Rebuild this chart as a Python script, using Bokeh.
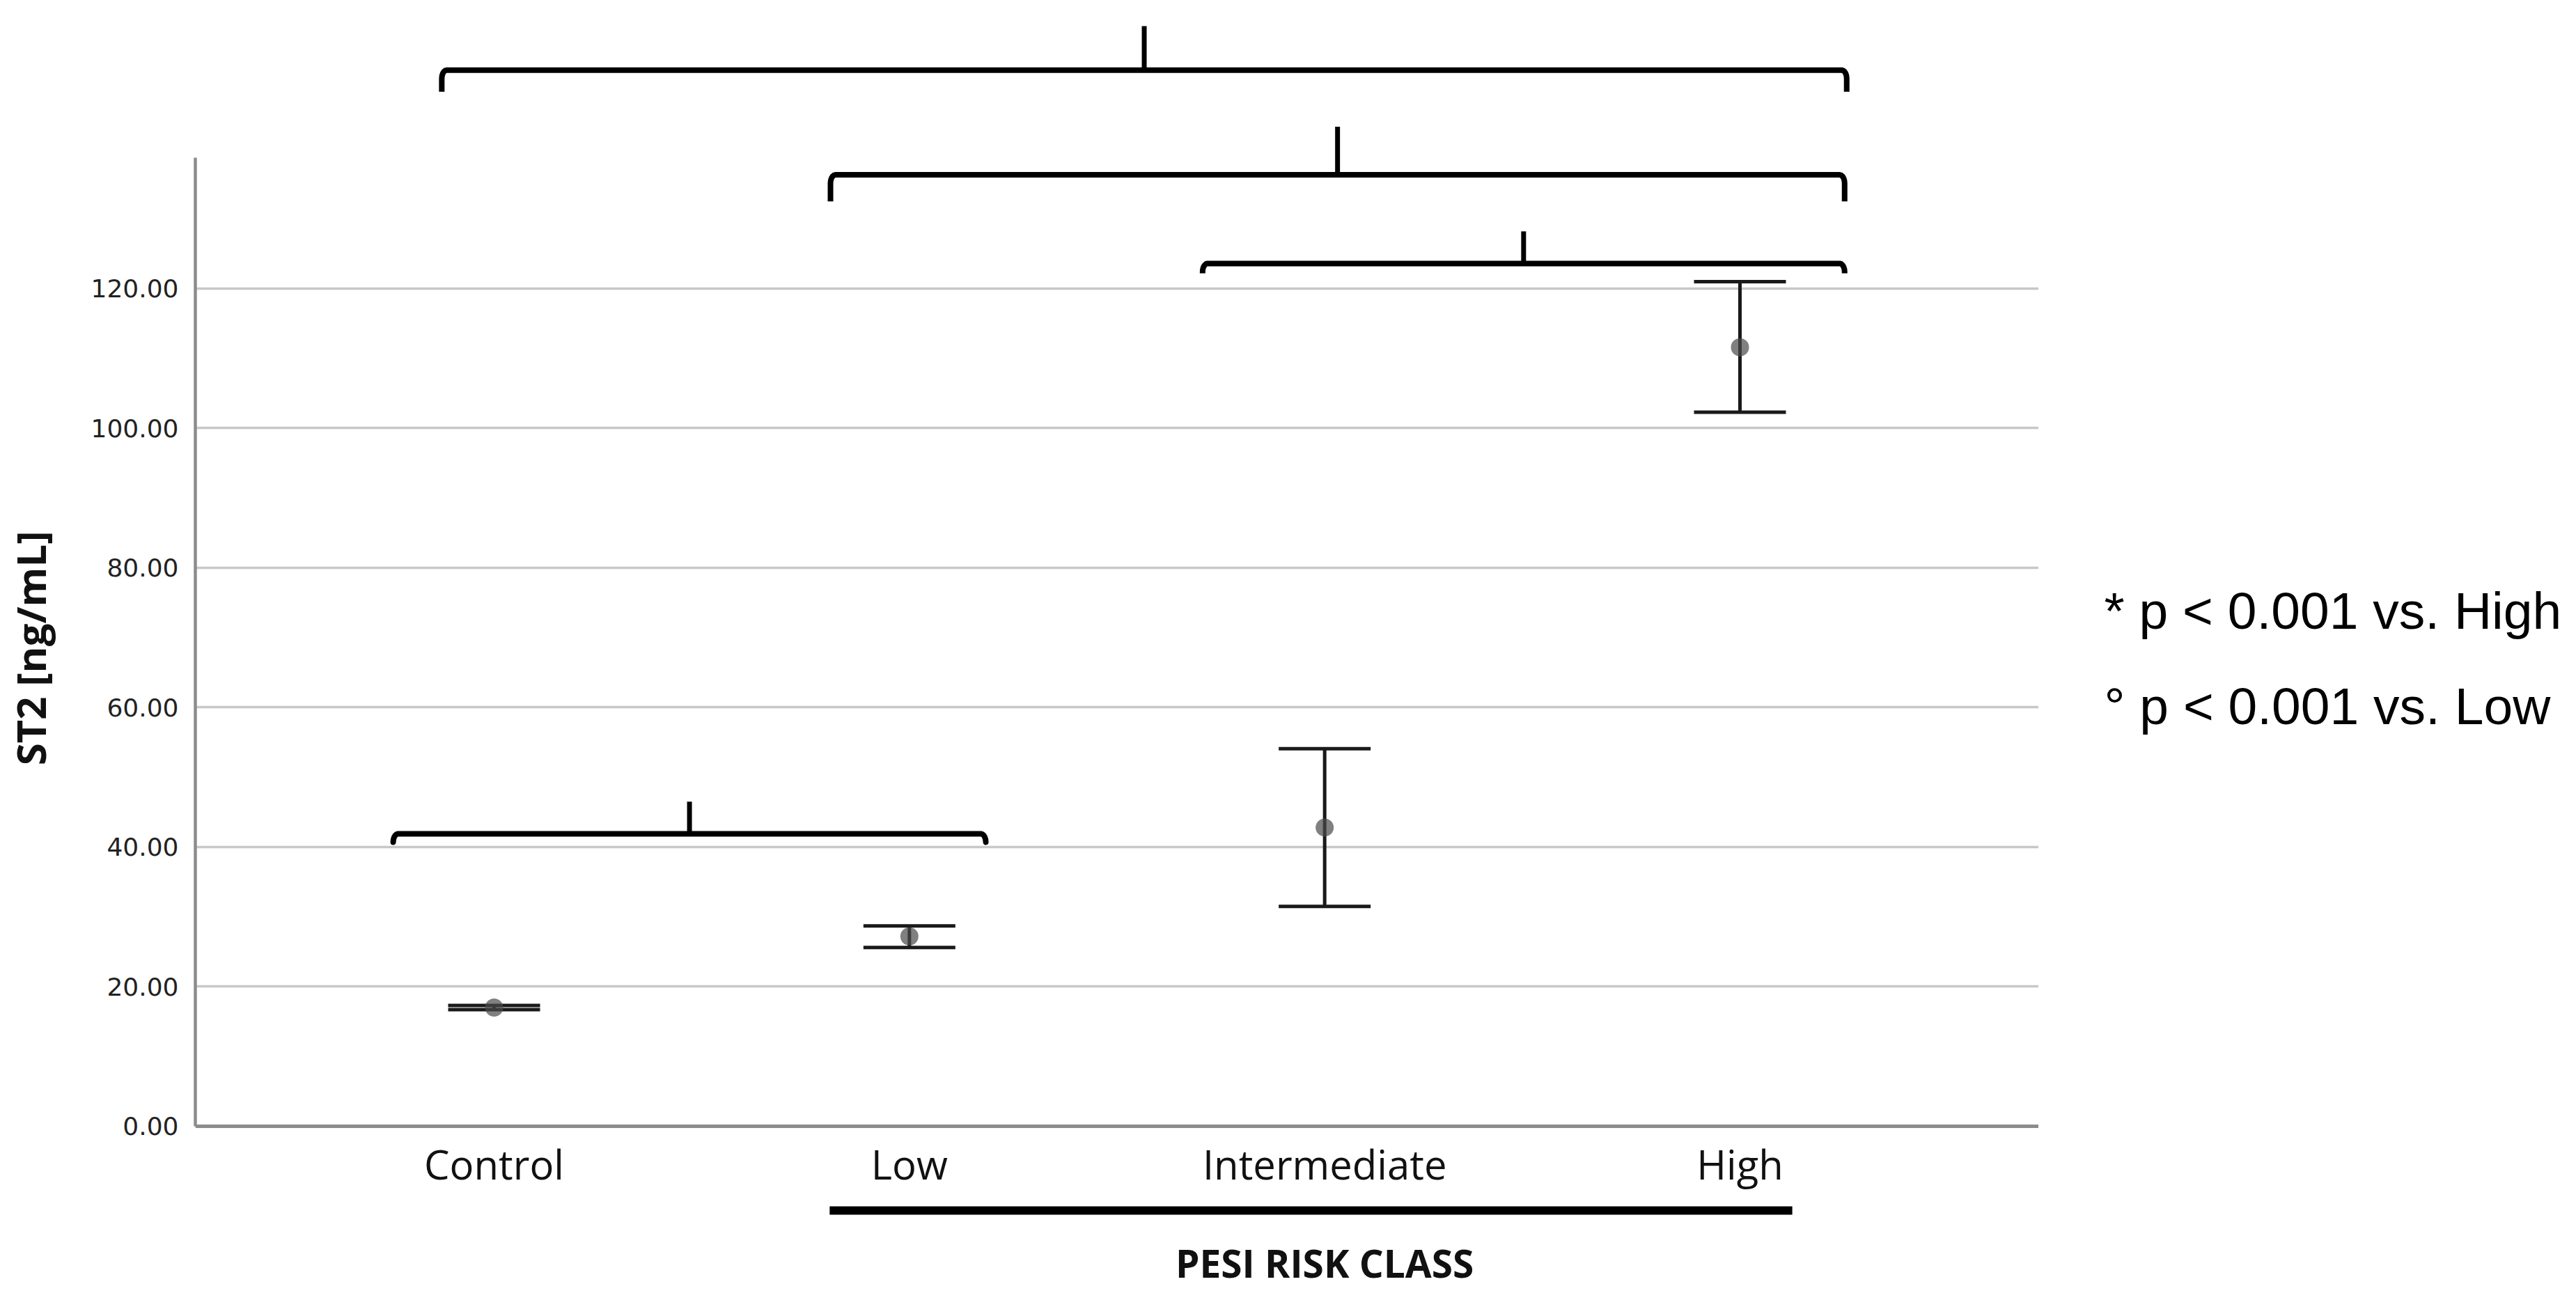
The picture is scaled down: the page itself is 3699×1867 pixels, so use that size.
import numpy as np
from bokeh.plotting import figure
from bokeh.layouts import row
from bokeh.models import (FactorRange, Range1d, FixedTicker, PrintfTickFormatter,
                          ColumnDataSource, Whisker, TeeHead, Label)
from bokeh.embed import file_html
from bokeh.resources import INLINE

# ---------------- data ----------------
categories = ["Control", "Low", "Intermediate", "High"]
means = [17.0, 27.2, 42.8, 111.6]
lower = [16.7, 25.6, 31.5, 102.3]
upper = [17.3, 28.7, 54.1, 121.0]
y_ticks = [0, 20, 40, 60, 80, 100, 120]
y_label = "ST2 [ng/mL]"
x_label = "PESI RISK CLASS"
notes = ["* p < 0.001 vs. High", "° p < 0.001 vs. Low"]
# significance brackets: (first group, last group)
bracket_pairs = [("Control", "High"), ("Low", "High"), ("Intermediate", "High"), ("Control", "Low")]
underline_pair = ("Low", "High")

# ---------------- layout / style ----------------
# bracket drawing: (left offset, right offset, bar level, stem top, end bottom)
bracket_geom = [(-0.126, 0.257, 151.3, 157.6, 148.2),
                (-0.190, 0.252, 136.3, 143.2, 132.5),
                (-0.294, 0.252, 123.6, 128.2, 122.2),
                (-0.243, 0.184, 41.9, 46.5, 40.8)]
underline_geom = (-0.192, 0.126, -12.07)

FRAME_H = 1841
TOP = 10
BOTTOM = 0
y_range = Range1d(-23.343, 160.298)

p = figure(x_range=FactorRange(factors=categories, range_padding=0.2194,
                               range_padding_units="absolute"),
           y_range=y_range,
           frame_width=2647, frame_height=FRAME_H,
           min_border_left=277, min_border_right=0,
           min_border_top=TOP, min_border_bottom=BOTTOM,
           output_backend="svg", toolbar_location=None)
p.outline_line_color = None
p.background_fill_color = "white"
p.border_fill_color = "white"

ticker = FixedTicker(ticks=y_ticks)
p.yaxis.ticker = ticker
p.ygrid.ticker = ticker
p.yaxis.bounds = (0, 138.8)
p.yaxis.formatter = PrintfTickFormatter(format="%.2f")
p.yaxis.major_label_text_font = "DejaVu Sans"
p.yaxis.major_label_text_font_size = "36px"
p.yaxis.major_label_text_color = "#222222"
p.yaxis.major_label_standoff = 18
p.yaxis.axis_line_color = "#8c8c8c"
p.yaxis.axis_line_width = 4.5
p.yaxis.major_tick_line_color = None
p.yaxis.minor_tick_line_color = None
p.yaxis.axis_label = y_label
p.yaxis.axis_label_text_font = "Open Sans"
p.yaxis.axis_label_text_font_style = "bold"
p.yaxis.axis_label_text_font_size = "58px"
p.yaxis.axis_label_text_color = "#111111"
p.yaxis.axis_label_standoff = 45

p.xaxis.fixed_location = 0
p.xaxis.axis_line_color = "#8c8c8c"
p.xaxis.axis_line_width = 5
p.xaxis.major_tick_line_color = None
p.xaxis.minor_tick_line_color = None
p.xaxis.major_label_text_font = "Open Sans"
p.xaxis.major_label_text_font_size = "58px"
p.xaxis.major_label_text_color = "#111111"
p.xaxis.major_label_standoff = 9

p.xgrid.visible = False
p.ygrid.grid_line_color = "#c8c8c8"
p.ygrid.grid_line_width = 3.5

# ---------------- error bars + means ----------------
src = ColumnDataSource(dict(cat=categories, mean=means, lower=lower, upper=upper))
whisk = Whisker(base="cat", upper="upper", lower="lower", source=src,
                line_color="#1a1a1a", line_width=5,
                upper_head=TeeHead(size=132, line_color="#1a1a1a", line_width=5),
                lower_head=TeeHead(size=132, line_color="#1a1a1a", line_width=5))
p.add_layout(whisk)
p.scatter(x="cat", y="mean", source=src, size=26, fill_color="#4a4a4a",
          fill_alpha=0.7, line_color=None)

# ---------------- brackets ----------------
pos = {c: i + 0.5 for i, c in enumerate(categories)}
rx, ry = 0.012, 1.2
t_left = np.linspace(np.pi, np.pi / 2, 6)
t_right = np.linspace(np.pi / 2, 0, 6)
bx, by, sx, sy = [], [], [], []
for (a, b), (lo, ro, yh, ytop, yend) in zip(bracket_pairs, bracket_geom):
    xl, xr = pos[a] + lo, pos[b] + ro
    xs = [xl] + list(xl + rx + rx * np.cos(t_left)) + list(xr - rx + rx * np.cos(t_right)) + [xr]
    ys = [yend] + list(yh - ry + ry * np.sin(t_left)) + list(yh - ry + ry * np.sin(t_right)) + [yend]
    bx.append(xs)
    by.append(ys)
    xm = (xl + xr) / 2
    sx.append([xm, xm])
    sy.append([yh, ytop])
p.multi_line(bx, by, line_color="black", line_width=8, line_join="round")
p.multi_line(sx, sy, line_color="black", line_width=7)

ua, ub = underline_pair
p.segment(x0=[pos[ua] + underline_geom[0]], y0=[underline_geom[2]],
          x1=[pos[ub] + underline_geom[1]], y1=[underline_geom[2]],
          line_color="black", line_width=12)

# x axis title, centred under the "Intermediate" group as in the original
p.add_layout(Label(x=pos["Intermediate"], y=-19.6, text=x_label, text_font="Open Sans",
                   text_font_style="bold", text_font_size="55px", text_color="#111111",
                   text_align="center", text_baseline="alphabetic"))

# ---------------- notes panel (right) ----------------
NOTE_W = 756
q = figure(x_range=Range1d(0, NOTE_W), y_range=y_range,
           frame_width=NOTE_W, frame_height=FRAME_H,
           min_border_left=0, min_border_right=0,
           min_border_top=TOP, min_border_bottom=BOTTOM,
           output_backend="svg", toolbar_location=None)
q.axis.visible = False
q.grid.visible = False
q.outline_line_color = None
q.background_fill_color = "white"
q.border_fill_color = "white"
note_y = [73.9, 60.16]
for txt, yy in zip(notes, note_y):
    q.add_layout(Label(x=94, y=yy, text=txt, text_font="Liberation Sans",
                       text_font_size="75px", text_color="black",
                       text_align="left", text_baseline="alphabetic"))

layout = row(p, q)
open("out.html", "w").write(file_html(layout, INLINE))
